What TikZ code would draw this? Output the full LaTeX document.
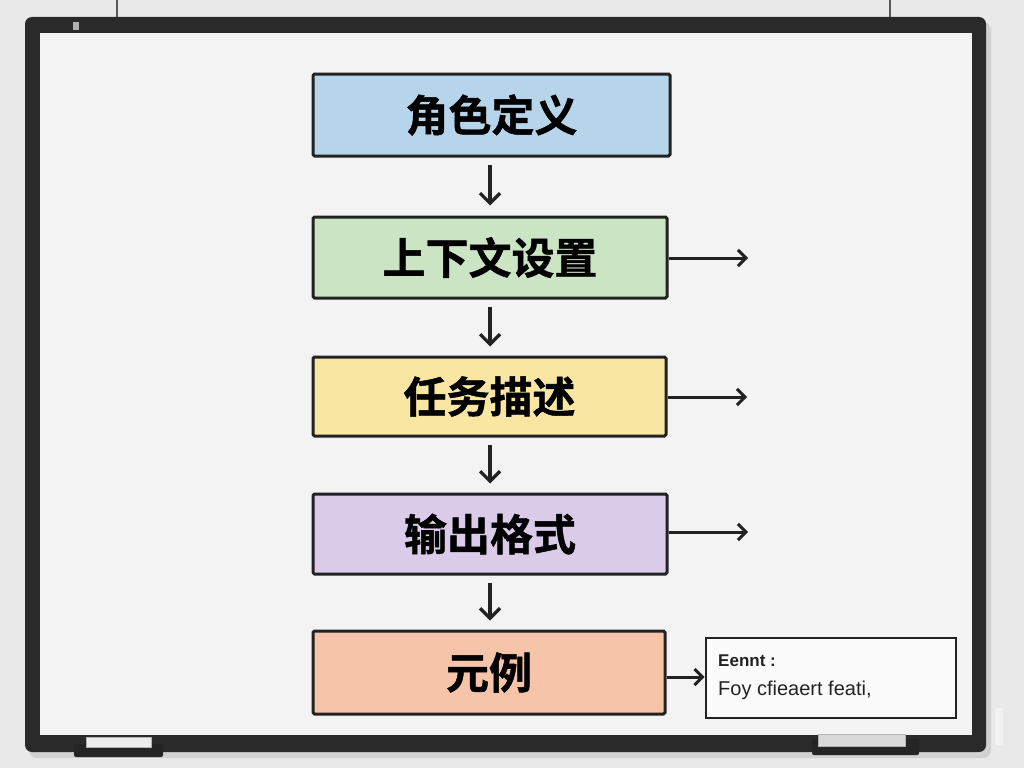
\documentclass[tikz,border=0pt]{standalone}
\usepackage{fontspec}
\newfontfamily\cjk{Noto Sans CJK SC Bold}[FakeBold=1.1]
\setsansfont{Liberation Sans}
\usetikzlibrary{arrows.meta}
\definecolor{wall}{HTML}{E9E9E9}
\definecolor{board}{HTML}{F3F3F3}
\definecolor{frame}{HTML}{2A2A2A}
\definecolor{cblue}{HTML}{B6D4EA}
\definecolor{cgreen}{HTML}{CAE4C4}
\definecolor{cyellow}{HTML}{F8E6A2}
\definecolor{cpurple}{HTML}{DACBE9}
\definecolor{cpeach}{HTML}{F6C5A9}
\definecolor{ink}{HTML}{222222}
\tikzset{
  stepbox/.style={draw=ink, line width=3pt, rounded corners=1.5pt, inner sep=0pt,
     font=\cjk\fontsize{43}{46}\selectfont, text=black},
  flowarrow/.style={draw=ink, line width=3.2pt, -{Straight Barb[length=10pt,width=20pt,line width=3.2pt]}},
  sidearrow/.style={draw=ink, line width=3pt, -{Straight Barb[length=8pt,width=16pt,line width=3pt]}},
  notetext/.style={anchor=west, inner sep=0pt, text=ink, font=\sffamily}
}
\begin{document}
\begin{tikzpicture}[x=1pt,y=-1pt]
\useasboundingbox (0,0) rectangle (1024,768);
\fill[wall] (0,0) rectangle (1024,768);
% hanging wires
\draw[gray!70!black, line width=1.6pt] (117,0) -- (117,18);
\draw[gray!70!black, line width=1.6pt] (890,0) -- (890,18);
% shadow and frame
\fill[black!18, rounded corners=8pt] (29,22) rectangle (991,758);
\fill[frame, rounded corners=7pt] (25,17) rectangle (986,752);
\fill[board] (40,33) rectangle (972,735);
\fill[gray!60] (73,22) rectangle (79,30);
% marker trays
\fill[frame!85!black, rounded corners=2pt] (74,744) rectangle (163,757);
\fill[white!92!black, draw=gray!60, line width=0.6pt] (86,737) rectangle (151,747);
\fill[frame!85!black, rounded corners=2pt] (812,739) rectangle (919,755);
\fill[white!85!black, draw=gray!60, line width=0.6pt] (818,734) rectangle (905,746);
\fill[white!90!gray] (995,708) rectangle (1003,745);
% boxes
\node[stepbox, fill=cblue,   minimum width=357pt, minimum height=82pt] (b1) at (491.5,115) {角色定义};
\node[stepbox, fill=cgreen,  minimum width=354pt, minimum height=81pt] (b2) at (490,257.5) {上下文设置};
\node[stepbox, fill=cyellow, minimum width=353pt, minimum height=79pt] (b3) at (489.5,396.5) {任务描述};
\node[stepbox, fill=cpurple, minimum width=354pt, minimum height=80pt] (b4) at (490,534) {输出格式};
\node[stepbox, fill=cpeach,  minimum width=352pt, minimum height=83pt] (b5) at (489,672.5) {元例};
% note box
\node[draw=ink, line width=2.8pt, fill=white!97!gray, minimum width=250pt, minimum height=80pt, inner sep=0pt] (nb) at (831,678) {};
\node[notetext, font=\sffamily\bfseries\fontsize{17}{19}\selectfont] (nt1) at (718,661) {Eennt :};
\node[notetext, font=\sffamily\fontsize{20}{22}\selectfont] (nt2) at (718,690) {Foy cfieaert feati,};
% down arrows
\draw[flowarrow, shorten <=7pt, shorten >=10pt] (b1.south -| 490,0) -- (b2.north -| 490,0);
\draw[flowarrow, shorten <=7pt, shorten >=9pt] (b2.south -| 490,0) -- (b3.north -| 490,0);
\draw[flowarrow, shorten <=7pt, shorten >=9pt] (b3.south -| 490,0) -- (b4.north -| 490,0);
\draw[flowarrow, shorten <=7pt, shorten >=9pt] (b4.south -| 490,0) -- (b5.north -| 490,0);
% right arrows
\coordinate (e2) at (748,258);
\coordinate (e3) at (747,397);
\coordinate (e4) at (748,532);
\draw[sidearrow] (b2.east |- e2) -- (e2);
\draw[sidearrow] (b3.east |- e3) -- (e3);
\draw[sidearrow] (b4.east |- e4) -- (e4);
\draw[sidearrow] (b5.east |- 0,677) -- (nb.west |- 0,677);
\end{tikzpicture}
\end{document}
